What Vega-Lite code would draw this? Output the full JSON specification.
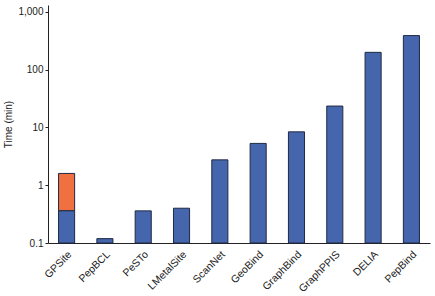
{
  "$schema": "https://vega.github.io/schema/vega-lite/v6.json",
  "autosize": {"type": "none"},
  "padding": {"left": 48, "top": 5, "right": 5, "bottom": 53},
  "width": 382,
  "height": 238,
  "background": "white",
  "config": {"view": {"stroke": null}, "font": "Liberation Sans"},
  "data": {"values": [
    {"method": "GPSite", "part": "a", "y0": 0.1, "y1": 0.363},
    {"method": "GPSite", "part": "b", "y0": 0.363, "y1": 1.6},
    {"method": "PepBCL", "part": "a", "y0": 0.1, "y1": 0.119},
    {"method": "PeSTo", "part": "a", "y0": 0.1, "y1": 0.36},
    {"method": "LMetalSite", "part": "a", "y0": 0.1, "y1": 0.4},
    {"method": "ScanNet", "part": "a", "y0": 0.1, "y1": 2.75},
    {"method": "GeoBind", "part": "a", "y0": 0.1, "y1": 5.3},
    {"method": "GraphBind", "part": "a", "y0": 0.1, "y1": 8.4},
    {"method": "GraphPPIS", "part": "a", "y0": 0.1, "y1": 23.5},
    {"method": "DELIA", "part": "a", "y0": 0.1, "y1": 200},
    {"method": "PepBind", "part": "a", "y0": 0.1, "y1": 390}
  ]},
  "mark": {"type": "bar", "stroke": "#1f2a44", "strokeWidth": 1},
  "encoding": {
    "x": {
      "field": "method", "type": "nominal", "sort": null,
      "scale": {"paddingInner": 0.58, "paddingOuter": 0.275},
      "axis": {"title": null, "labelAngle": -45, "labelFontSize": 10.5, "labelColor": "#222", "domainColor": "#222", "ticks": false, "labelPadding": 6}
    },
    "y": {
      "field": "y1", "type": "quantitative",
      "scale": {"type": "log", "domain": [0.1, 1320], "nice": false},
      "axis": {"title": "Time (min)", "values": [0.1, 1, 10, 100, 1000], "format": ",", "grid": false, "labelFontSize": 10, "labelColor": "#222", "domainColor": "#222", "tickColor": "#222", "tickSize": 3, "titleFontSize": 10, "titleFontWeight": "normal", "titleColor": "#222", "titlePadding": 4}
    },
    "y2": {"field": "y0"},
    "color": {
      "field": "part", "type": "nominal",
      "scale": {"domain": ["a", "b"], "range": ["#4566ac", "#f07040"]},
      "legend": null
    }
  }
}
